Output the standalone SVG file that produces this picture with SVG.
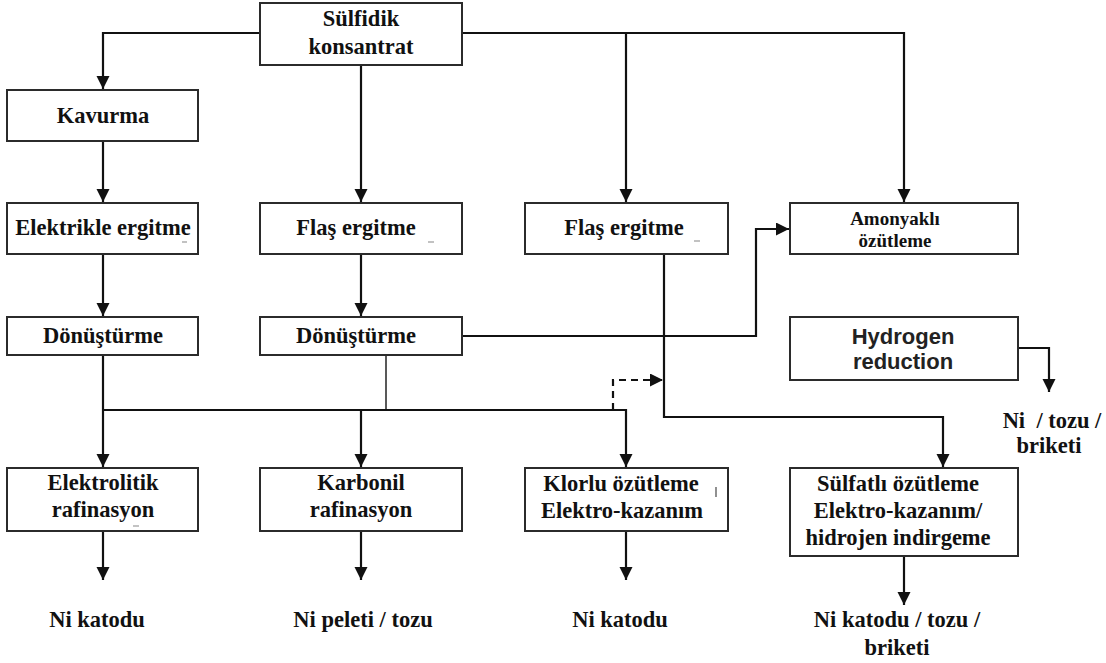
<svg xmlns="http://www.w3.org/2000/svg" width="1106" height="663" viewBox="0 0 1106 663">
  <style>
    .box { fill: #fff; stroke: #2b2b2b; stroke-width: 2; }
    .t { font-family: "Liberation Serif", "Times New Roman", serif; font-weight: bold; font-size: 22.5px; fill: #111; text-anchor: middle; }
    .ts { font-family: "Liberation Sans", Arial, sans-serif; font-weight: bold; font-size: 22px; fill: #222; text-anchor: middle; }
    .small { font-size: 19px; }
    .ln { fill: none; stroke: #111; stroke-width: 2.2; }
    .thin { fill: none; stroke: #222; stroke-width: 1.5; }
    .dash { fill: none; stroke: #111; stroke-width: 2.2; stroke-dasharray: 7 5; }
    .mark { stroke: #9a9a9a; stroke-width: 1.2; }
  </style>
  <defs>
    <marker id="arrow" markerUnits="userSpaceOnUse" markerWidth="14" markerHeight="14" refX="13" refY="6.5" orient="auto">
      <path d="M0,0 L13,6.5 L0,13 Z" fill="#111"/>
    </marker>
  </defs>

  <rect width="1106" height="663" fill="#fff"/>

  <!-- connectors -->
  <g id="connectors">
    <!-- from the concentrate box -->
    <path class="ln" d="M260,33 H103 V89" marker-end="url(#arrow)"/>
    <path class="ln" d="M361,65 V202" marker-end="url(#arrow)"/>
    <path class="ln" d="M462,33 H904 V202" marker-end="url(#arrow)"/>
    <path class="ln" d="M626,33 V202" marker-end="url(#arrow)"/>
    <!-- left column -->
    <path class="ln" d="M103,141 V202" marker-end="url(#arrow)"/>
    <path class="ln" d="M103,254 V316" marker-end="url(#arrow)"/>
    <path class="ln" d="M103,355 V467" marker-end="url(#arrow)"/>
    <!-- middle column -->
    <path class="ln" d="M361,254 V316" marker-end="url(#arrow)"/>
    <path class="thin" d="M386,355 V410"/>
    <!-- shared bus -->
    <path class="ln" d="M103,410 H626 V467" marker-end="url(#arrow)"/>
    <path class="ln" d="M361,410 V467" marker-end="url(#arrow)"/>
    <!-- converter to ammonia leach -->
    <path class="ln" d="M462,336 H756 V229 H789" marker-end="url(#arrow)"/>
    <!-- flash smelting to sulphate leach -->
    <path class="ln" d="M664,254 V417 H943 V467" marker-end="url(#arrow)"/>
    <!-- dashed link -->
    <path class="dash" d="M613,410 V380 H663" marker-end="url(#arrow)"/>
    <!-- hydrogen reduction output -->
    <path class="ln" d="M1018,348 H1049 V392" marker-end="url(#arrow)"/>
    <!-- product arrows -->
    <path class="ln" d="M103,531 V580" marker-end="url(#arrow)"/>
    <path class="ln" d="M361,531 V580" marker-end="url(#arrow)"/>
    <path class="ln" d="M626,531 V580" marker-end="url(#arrow)"/>
    <path class="ln" d="M904,556 V605" marker-end="url(#arrow)"/>
  </g>

  <g id="sulfidik">
    <rect class="box" x="260" y="3" width="202" height="62"/>
    <text class="t" x="361" y="26">Sülfidik</text>
    <text class="t" x="361" y="54">konsantrat</text>
  </g>

  <g id="kavurma">
    <rect class="box" x="7" y="90" width="191" height="51"/>
    <text class="t" x="103" y="123">Kavurma</text>
  </g>

  <g id="elektrikle">
    <rect class="box" x="7" y="203" width="191" height="51"/>
    <text class="t" x="103" y="235">Elektrikle ergitme</text>
    <line class="mark" x1="182" y1="242" x2="187" y2="242"/>
  </g>

  <g id="flas1">
    <rect class="box" x="260" y="203" width="202" height="51"/>
    <text class="t" x="356" y="235">Flaş ergitme</text>
    <line class="mark" x1="428" y1="242" x2="434" y2="242"/>
  </g>

  <g id="flas2">
    <rect class="box" x="525" y="203" width="203" height="51"/>
    <text class="t" x="624" y="235">Flaş ergitme</text>
    <line class="mark" x1="694" y1="241" x2="700" y2="241"/>
  </g>

  <g id="amonyakli">
    <rect class="box" x="790" y="203" width="228" height="51"/>
    <text class="t small" x="895" y="225">Amonyaklı</text>
    <text class="t small" x="895" y="247">özütleme</text>
  </g>

  <g id="donusturme1">
    <rect class="box" x="7" y="317" width="191" height="38"/>
    <text class="t" x="103" y="343">Dönüştürme</text>
  </g>

  <g id="donusturme2">
    <rect class="box" x="260" y="317" width="202" height="38"/>
    <text class="t" x="356" y="343">Dönüştürme</text>
  </g>

  <g id="hydrogen">
    <rect class="box" x="790" y="317" width="228" height="63"/>
    <text class="ts" x="903" y="344">Hydrogen</text>
    <text class="ts" x="903" y="369">reduction</text>
  </g>

  <g id="ni-toz-briket">
    <text class="t" x="1052" y="428" xml:space="preserve">Ni  / tozu /</text>
    <text class="t" x="1049" y="453">briketi</text>
  </g>

  <g id="elektrolitik">
    <rect class="box" x="7" y="468" width="191" height="63"/>
    <text class="t" x="103" y="490">Elektrolitik</text>
    <text class="t" x="103" y="517">rafinasyon</text>
    <line class="mark" x1="133" y1="526" x2="139" y2="526"/>
  </g>

  <g id="karbonil">
    <rect class="box" x="260" y="468" width="202" height="63"/>
    <text class="t" x="361" y="490">Karbonil</text>
    <text class="t" x="361" y="517">rafinasyon</text>
  </g>

  <g id="klorlu">
    <rect class="box" x="525" y="468" width="203" height="63"/>
    <text class="t" x="621" y="491">Klorlu özütleme</text>
    <text class="t" x="622" y="518">Elektro-kazanım</text>
    <line x1="716" y1="487" x2="716" y2="497" stroke="#555" stroke-width="1.3"/>
  </g>

  <g id="sulfatli">
    <rect class="box" x="790" y="468" width="228" height="88"/>
    <text class="t" x="898" y="491">Sülfatlı özütleme</text>
    <text class="t" x="898" y="518">Elektro-kazanım/</text>
    <text class="t" x="898" y="545">hidrojen indirgeme</text>
  </g>

  <g id="products">
    <text class="t" x="97" y="627">Ni katodu</text>
    <text class="t" x="363" y="627">Ni peleti / tozu</text>
    <text class="t" x="620" y="627">Ni katodu</text>
    <text class="t" x="897" y="627">Ni katodu / tozu /</text>
    <text class="t" x="897" y="655">briketi</text>
  </g>
</svg>
